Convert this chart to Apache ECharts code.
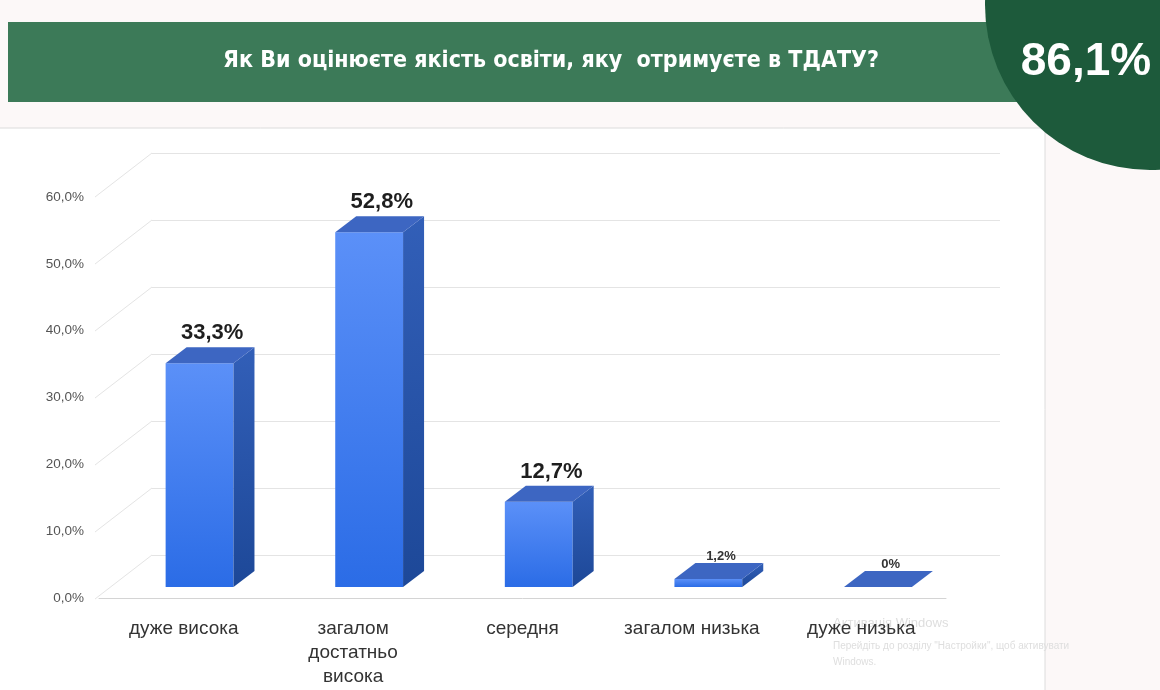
<!DOCTYPE html>
<html>
<head>
<meta charset="utf-8">
<script src="https://cdn.jsdelivr.net/npm/echarts@6/dist/echarts.min.js"></script>
<style>
html,body{margin:0;padding:0;background:#fcf8f8;}
#chart{width:1160px;height:690px;}
</style>
</head>
<body>
<div id="chart"></div>
<script>
const titleText = 'Як Ви оцінюєте якість освіти, яку  отримуєте в ТДАТУ?';
const badgeText = '86,1%';
const categories = ['дуже висока', 'загалом\nдостатньо\nвисока', 'середня', 'загалом низька', 'дуже низька'];
const values = [33.3, 52.8, 12.7, 1.2, 0];
const yTicks = [0, 10, 20, 30, 40, 50, 60];

const fmtPct = v => String(v).replace('.', ',') + '%';
const fmtTick = v => v.toFixed(1).replace('.', ',') + '%';

const chart = echarts.init(document.getElementById('chart'));

const DX = 21, DY = -16;

function renderBar(params, api) {
  const idx = api.value(0);
  const v = api.value(1);
  const base = api.coord([idx, 0]);
  const top = api.coord([idx, v]);
  const bw = api.size([1, 0])[0] * 0.4;
  const x0 = base[0] - bw / 2, x1 = base[0] + bw / 2;
  const yb = base[1], yt = top[1];
  const big = v >= 5;
  return {
    type: 'group',
    children: [
      {
        type: 'rect',
        shape: { x: x0, y: yt, width: bw, height: Math.max(yb - yt, 0) },
        style: {
          fill: new echarts.graphic.LinearGradient(0, 0, 0, 1, [
            { offset: 0, color: '#5b90f8' },
            { offset: 1, color: '#2b6ce6' }
          ])
        }
      },
      {
        type: 'polygon',
        shape: { points: [[x1, yt], [x1 + DX, yt + DY], [x1 + DX, yb + DY], [x1, yb]] },
        style: {
          fill: new echarts.graphic.LinearGradient(0, 0, 0, 1, [
            { offset: 0, color: '#325fb8' },
            { offset: 1, color: '#1d4898' }
          ])
        }
      },
      {
        type: 'polygon',
        shape: { points: [[x0, yt], [x0 + DX, yt + DY], [x1 + DX, yt + DY], [x1, yt]] },
        style: { fill: '#3d66c2' }
      },
      {
        type: 'text',
        style: {
          x: base[0] + DX * 0.6,
          y: yt + DY - (big ? 3 : 0),
          text: fmtPct(v),
          align: 'center',
          verticalAlign: 'bottom',
          fill: big ? '#1e1e1e' : '#333',
          font: 'bold ' + (big ? 22 : 13) + 'px "Liberation Sans", Arial, sans-serif'
        }
      }
    ]
  };
}

function renderDiag(params, api) {
  const p = api.coord([0, api.value(1)]);
  return {
    type: 'line',
    shape: { x1: p[0] - 57, y1: p[1] + 44, x2: p[0], y2: p[1] },
    style: { stroke: '#e4e4e4', lineWidth: 1 }
  };
}

const option = {
  backgroundColor: '#fcf8f8',
  animation: false,
  graphic: [
    { type: 'rect', z: -10, shape: { x: -2, y: 128, width: 1047, height: 570 }, style: { fill: '#ffffff', stroke: '#dcdcdc', lineWidth: 1 } },
    { type: 'rect', z: -9, shape: { x: 8, y: 22, width: 1100, height: 80 }, style: { fill: '#3c7a58' } },
    { type: 'circle', z: -8, shape: { cx: 1150, cy: 5, r: 165 }, style: { fill: '#1d5a3b' } },
    { type: 'text', z: 5, style: { x: 551, y: 61, text: titleText, align: 'center', verticalAlign: 'middle', fill: '#ffffff', font: 'bold 23px "Liberation Sans Narrow", "DejaVu Sans Condensed", Arial, sans-serif' } },
    { type: 'text', z: 5, style: { x: 1086, y: 62, text: badgeText, align: 'center', verticalAlign: 'middle', fill: '#ffffff', font: 'bold 46px "Liberation Sans", Arial, sans-serif' } },
    { type: 'text', z: -5, style: { x: 833, y: 623, text: 'Активація Windows', verticalAlign: 'middle', fill: '#dedede', font: '13px "Liberation Sans", Arial, sans-serif' } },
    { type: 'text', z: -5, style: { x: 833, y: 646, text: 'Перейдіть до розділу "Настройки", щоб активувати', verticalAlign: 'middle', fill: '#dedede', font: '10px "Liberation Sans", Arial, sans-serif' } },
    { type: 'text', z: -5, style: { x: 833, y: 662, text: 'Windows.', verticalAlign: 'middle', fill: '#dedede', font: '10px "Liberation Sans", Arial, sans-serif' } }
  ],
  grid: [
    { left: 99, right: 214, top: 197, bottom: 92 },
    { left: 114.75, right: 197.25, top: 184, bottom: 103 },
    { left: 152, right: 160, top: 153, bottom: 135 }
  ],
  xAxis: [
    {
      gridIndex: 0, type: 'category', data: categories,
      axisLine: { lineStyle: { color: '#d4d4d4' } },
      axisTick: { show: false },
      axisLabel: { margin: 19, color: '#333', fontSize: 19, lineHeight: 24, fontFamily: '"Liberation Sans", Arial, sans-serif', interval: 0 }
    },
    { gridIndex: 1, type: 'category', data: categories, show: false },
    { gridIndex: 2, type: 'value', min: 0, max: 1, show: false }
  ],
  yAxis: [
    {
      gridIndex: 0, type: 'value', min: 0, max: 60, interval: 10,
      axisLine: { show: false }, axisTick: { show: false }, splitLine: { show: false },
      axisLabel: { formatter: fmtTick, color: '#555', fontSize: 13.5, margin: 15, fontFamily: '"Liberation Sans", Arial, sans-serif' }
    },
    { gridIndex: 1, type: 'value', min: 0, max: 60, show: false },
    {
      gridIndex: 2, type: 'value', min: 0, max: 60, interval: 10,
      axisLine: { show: false }, axisTick: { show: false }, axisLabel: { show: false },
      splitLine: { lineStyle: { color: '#e4e4e4', width: 1 } }
    }
  ],
  series: [
    {
      type: 'custom', xAxisIndex: 2, yAxisIndex: 2,
      data: yTicks.map(t => [0, t]),
      renderItem: renderDiag, silent: true, z: 1
    },
    {
      type: 'custom', xAxisIndex: 1, yAxisIndex: 1,
      data: values.map((v, i) => [i, v]),
      renderItem: renderBar, z: 3
    }
  ]
};
chart.setOption(option);
</script>
</body>
</html>
